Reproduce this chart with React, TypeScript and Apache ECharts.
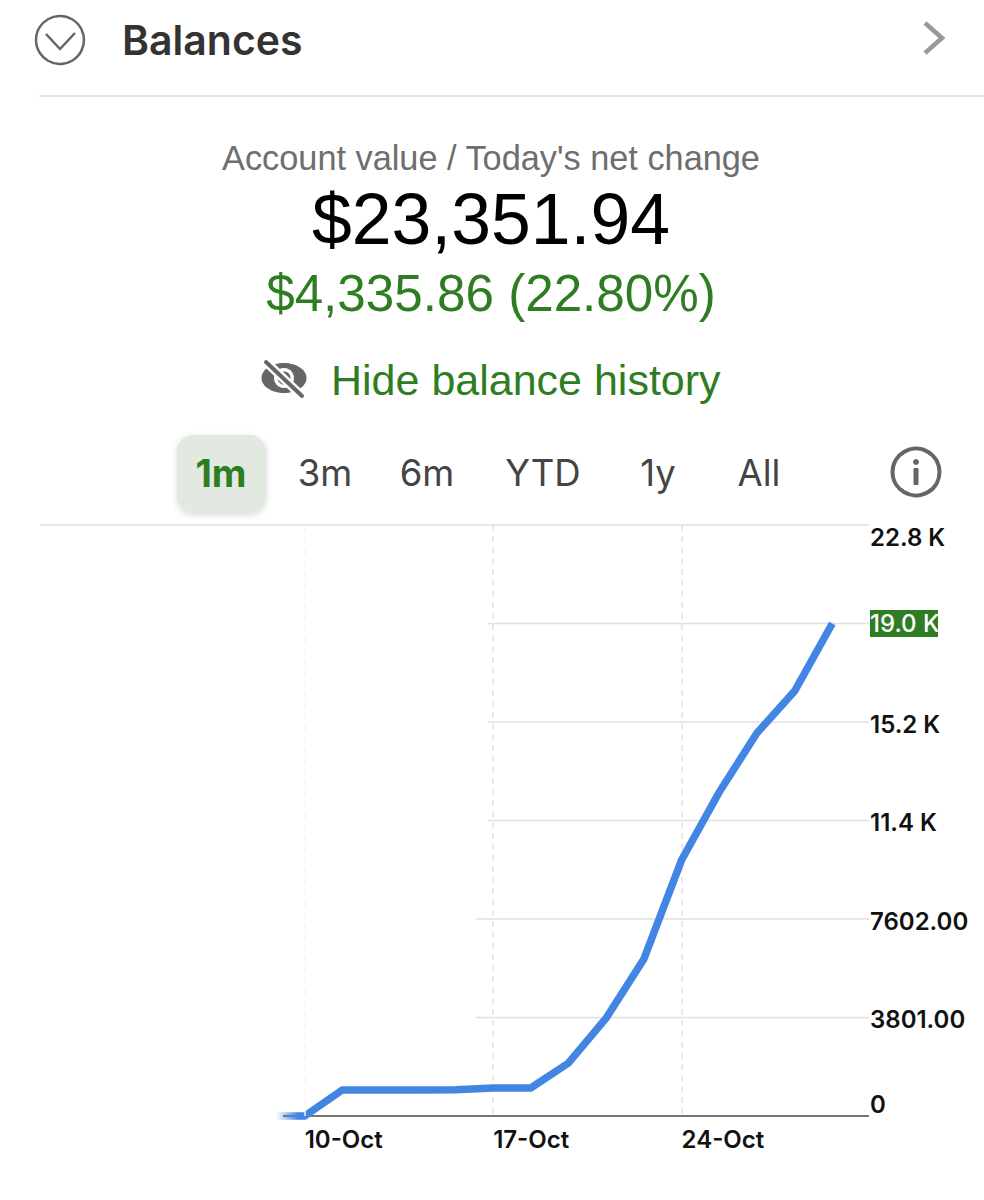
import React, { useEffect, useRef } from "react";
import * as echarts from "echarts";

const categories = ["7-Oct","10-Oct","11-Oct","12-Oct","13-Oct","14-Oct","17-Oct","18-Oct","19-Oct","20-Oct","21-Oct","24-Oct","25-Oct","26-Oct","27-Oct","28-Oct","31-Oct"];
const balanceValues = [0,0,1003,1003,1005,1010,1080,1085,2045,3780,6057,9877,12500,14776,16400,19005,null];
const xTickLabels = ["10-Oct","17-Oct","24-Oct"];
const yTickValues = [0,3801,7602,11403,15204,19005,22806];
const yTickLabels = ["0","3801.00","7602.00","11.4 K","15.2 K","19.0 K","22.8 K"];
const highlightedTick = 19005;
const ranges = ["3m","6m","YTD","1y","All"];

const GREEN = "#2f7d22";
const SANS = "Liberation Sans";
const UI = "Inter";

// Pixels each horizontal rule extends to the left of the 17-Oct tick.
const ruleStartOffsets: Record<number, number> = { 22806: 453, 19005: 5, 15204: 5, 11403: 5, 7602: 17, 3801: 17 };

const text = (x: number, y: number, t: string, fontSize: number, fill: string, fontFamily: string, extra: any = {}) => ({
  type: "text", x, y, silent: true,
  style: { text: t, fontSize, fill, fontFamily, textAlign: "center", textVerticalAlign: "middle", ...extra },
});

function buildGraphic() {
  const line = (x1: number, y1: number, x2: number, y2: number, stroke: string, lineWidth: number) => ({
    type: "line", shape: { x1, y1, x2, y2 }, style: { stroke, lineWidth, lineCap: "round" }, silent: true,
  });
  const rangeX = [325, 427, 543, 658, 759];
  return [
    { type: "circle", shape: { cx: 60, cy: 40, r: 24 }, style: { fill: "none", stroke: "#666", lineWidth: 2.5 } },
    { type: "polyline", shape: { points: [[46, 34], [60, 49], [75, 33]] }, style: { fill: "none", stroke: "#666", lineWidth: 2.5 } },
    text(122, 40, "Balances", 41, "#333", UI, { textAlign: "left", fontWeight: 600 }),
    { type: "polyline", shape: { points: [[925, 23], [942, 38], [925, 53]] }, style: { fill: "none", stroke: "#999", lineWidth: 4.5 } },
    line(40, 96, 984, 96, "#e4e4e4", 2),

    text(491, 158, "Account value / Today's net change", 34.3, "#6e6e6e", SANS),
    text(491, 219, "$23,351.94", 71.5, "#000", SANS),
    text(491, 293, "$4,335.86 (22.80%)", 51.2, GREEN, SANS),
    text(331, 380, "Hide balance history", 43, GREEN, SANS, { textAlign: "left" }),

    { type: "ellipse", shape: { cx: 284, cy: 378, rx: 22.5, ry: 15 }, style: { fill: "#666" } },
    { type: "circle", shape: { cx: 284, cy: 378, r: 10 }, style: { fill: "#fff" } },
    { type: "circle", shape: { cx: 284, cy: 378, r: 6.5 }, style: { fill: "#666" } },
    line(265, 361, 303, 397, "#fff", 9),
    line(266, 362, 302, 396, "#666", 4),

    { type: "rect", shape: { x: 177, y: 435, width: 89, height: 78, r: 16 },
      style: { fill: "#e2e9e0", shadowBlur: 6, shadowColor: "rgba(0,0,0,0.15)", shadowOffsetY: 2 } },
    text(221, 473, "1m", 38, GREEN, UI, { fontWeight: 700 }),
    ...ranges.map((r, i) => text(rangeX[i], 473, r, 36.5, "#444", UI)),
    { type: "circle", shape: { cx: 916, cy: 472, r: 23.5 }, style: { fill: "none", stroke: "#666", lineWidth: 4 } },
    { type: "circle", shape: { cx: 916, cy: 462, r: 3 }, style: { fill: "#666" } },
    { type: "rect", shape: { x: 913.5, y: 468, width: 5, height: 17, r: 1 }, style: { fill: "#666" } },
  ];
}

export default function App() {
  const ref = useRef<HTMLDivElement>(null);
  useEffect(() => {
    document.body.style.margin = "0";
    const chart = echarts.init(ref.current!, undefined, { renderer: "svg" });
    const rules = yTickValues.filter((v) => v > 0);
    chart.setOption({
      animation: false,
      backgroundColor: "#fff",
      graphic: { elements: buildGraphic() },
      grid: { left: 267, right: 114, top: 525, bottom: 84 },
      xAxis: {
        type: "category",
        data: categories,
        boundaryGap: false,
        axisLine: { show: false },
        axisTick: { show: false },
        splitLine: {
          show: true,
          interval: (_: number, v: string) => v === "17-Oct" || v === "24-Oct",
          lineStyle: { color: "#e2e2e2", type: [6, 5], width: 1.5 },
        },
        axisLabel: {
          interval: (_: number, v: string) => xTickLabels.includes(v),
          align: "left",
          margin: 11,
          fontFamily: UI,
          fontWeight: 600,
          fontSize: 24,
          color: "#111",
        },
      },
      yAxis: {
        type: "value",
        position: "right",
        min: 0,
        max: 22806,
        interval: 3801,
        axisLine: { show: false },
        axisTick: { show: false },
        splitLine: { show: false },
        axisLabel: {
          margin: 0,
          verticalAlignMinLabel: "bottom",
          verticalAlignMaxLabel: "top",
          fontFamily: UI,
          fontWeight: 600,
          fontSize: 24,
          color: "#111",
          formatter: (v: number) => {
            const label = yTickLabels[yTickValues.indexOf(v)];
            if (v === highlightedTick) return `{hl|${label}}`;
            if (v === 22806) return `{top|${label}}`;
            return `{def|${label}}`;
          },
          rich: {
            def: { fontFamily: UI, fontWeight: 600, fontSize: 24, color: "#111", padding: [4, 0, 0, 0] },
            top: { fontFamily: UI, fontWeight: 600, fontSize: 24, color: "#111", padding: [0, 0, 4, 0] },
            hl: { fontFamily: UI, fontWeight: 500, fontSize: 24, color: "#fff", backgroundColor: GREEN, width: 68, height: 27, lineHeight: 27, padding: [0, 0, 0, 0] },
          },
        },
      },
      series: [
        {
          type: "custom",
          name: "rules",
          silent: true,
          z: 1,
          data: rules.map((v) => ["17-Oct", v]),
          encode: { x: 0, y: 1 },
          clip: false,
          renderItem: (_: any, api: any) => {
            const v = api.value(1);
            const a = api.coord([api.value(0), v]);
            const b = api.coord([categories.length - 1, v]);
            return {
              type: "line",
              shape: { x1: a[0] - ruleStartOffsets[v], y1: a[1], x2: b[0] - 1, y2: b[1] },
              style: { stroke: "#e0e0e0", lineWidth: 1.5 },
            };
          },
        },
        {
          type: "custom",
          name: "baseline",
          silent: true,
          z: 1,
          data: [["7-Oct", 0]],
          encode: { x: 0, y: 1 },
          clip: false,
          renderItem: (_: any, api: any) => {
            const a = api.coord([0, 0]);
            const b = api.coord([categories.length - 1, 0]);
            return {
              type: "line",
              shape: { x1: a[0] + 16, y1: a[1], x2: b[0] - 1, y2: b[1] },
              style: { stroke: "#777", lineWidth: 2 },
            };
          },
        },
        {
          type: "line",
          name: "Balance",
          data: balanceValues,
          showSymbol: false,
          symbol: "none",
          z: 3,
          clip: false,
          lineStyle: {
            width: 7.5,
            join: "miter",
            cap: "butt",
            color: {
              type: "linear", global: true, x: 276, y: 0, x2: 298, y2: 0,
              colorStops: [
                { offset: 0, color: "rgba(66,133,227,0)" },
                { offset: 1, color: "#4285e3" },
              ],
            },
          },
          markLine: {
            silent: true,
            symbol: "none",
            label: { show: false },
            lineStyle: { color: "#f6f6f6", type: [6, 5], width: 1.5 },
            data: [{ xAxis: "10-Oct" }],
          },
        },
      ],
    });
    return () => chart.dispose();
  }, []);
  return <div ref={ref} style={{ width: 984, height: 1200 }} />;
}
